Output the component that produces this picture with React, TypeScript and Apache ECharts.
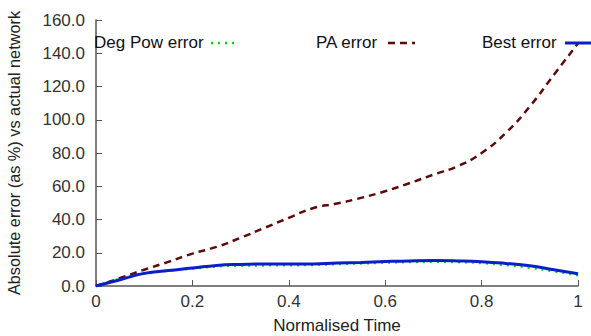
import React, { useEffect, useRef } from "react";
import * as echarts from "echarts";

const times = [0, 0.05, 0.1, 0.15, 0.2, 0.25, 0.3, 0.35, 0.4, 0.45, 0.5, 0.55, 0.6, 0.65, 0.7, 0.75, 0.8, 0.85, 0.9, 0.95, 1];
const degPowError = [0, 4.3, 7.4, 9.2, 10.5, 11.8, 12.3, 12.4, 12.5, 12.7, 13.2, 13.6, 14.0, 14.4, 14.6, 14.4, 13.8, 12.6, 11.0, 8.8, 6.4];
const paError = [0, 4.8, 9.8, 14.5, 19.5, 23.5, 29, 35, 41, 46.8, 49.6, 53, 57, 61.8, 67, 72, 80, 92, 108, 127, 146];
const bestError = [0, 3.8, 7.6, 9.3, 10.8, 12.4, 13, 13.2, 13.2, 13.3, 13.8, 14.2, 14.7, 15.1, 15.3, 15.1, 14.6, 13.6, 12.2, 9.8, 7.4];
const legendNames = ["Deg Pow error", "PA error", "Best error"];

const FONT = "'Liberation Sans', Arial, sans-serif";
const FS = 17;
const GREEN = "#00dd00";
const MAROON = "#5c0a0a";
const BLUE = "#0a1fc8";

export default function App() {
  const ref = useRef<HTMLDivElement>(null);
  useEffect(() => {
    if (!ref.current) return;
    const chart = echarts.init(ref.current, undefined, { renderer: "svg" });
    const pair = (vals: number[]) => times.map((t, i) => [t, vals[i]]);
    chart.setOption({
      animation: false,
      grid: { left: 96, right: 13, top: 20, bottom: 50, containLabel: false, outerBoundsMode: "none" },
      xAxis: {
        type: "value",
        min: 0,
        max: 1,
        interval: 0.2,
        name: "Normalised Time",
        nameLocation: "middle",
        nameGap: 31,
        nameTextStyle: { fontFamily: FONT, fontSize: FS, color: "#222" },
        axisLine: { lineStyle: { color: "#555", width: 1.5 } },
        axisTick: { inside: true, length: 6, lineStyle: { color: "#555" } },
        axisLabel: { fontFamily: FONT, fontSize: FS, color: "#333", margin: 7 },
        splitLine: { show: false },
      },
      yAxis: {
        type: "value",
        min: 0,
        max: 160,
        interval: 20,
        name: "Absolute error (as %) vs actual network",
        nameLocation: "middle",
        nameGap: 74,
        nameTextStyle: { fontFamily: FONT, fontSize: 16.3, color: "#222" },
        axisLine: { show: true, lineStyle: { color: "#555", width: 1.5 } },
        axisTick: { show: true, inside: true, length: 6, lineStyle: { color: "#555" } },
        axisLabel: { fontFamily: FONT, fontSize: FS, color: "#333", margin: 11, formatter: (v: number) => v.toFixed(1) },
        splitLine: { show: false },
      },
      series: [
        {
          name: legendNames[0],
          type: "line",
          data: pair(degPowError),
          smooth: true,
          showSymbol: false,
          lineStyle: { color: GREEN, width: 2.5, type: [2, 5] },
          z: 2,
        },
        {
          name: legendNames[1],
          type: "line",
          data: pair(paError),
          smooth: true,
          showSymbol: false,
          lineStyle: { color: MAROON, width: 2.5, type: [7, 5] },
          z: 3,
        },
        {
          name: legendNames[2],
          type: "line",
          data: pair(bestError),
          smooth: true,
          showSymbol: false,
          lineStyle: { color: BLUE, width: 3 },
          z: 4,
        },
      ],
      graphic: [
        { type: "text", left: 94, top: 34, style: { text: legendNames[0], font: `${FS}px ${FONT}`, fill: "#111" }, z: 10 },
        { type: "line", shape: { x1: 211, y1: 43, x2: 239, y2: 43 }, style: { stroke: GREEN, lineWidth: 2.5, lineDash: [2, 5] }, z: 10 },
        { type: "text", left: 316, top: 34, style: { text: legendNames[1], font: `${FS}px ${FONT}`, fill: "#111" }, z: 10 },
        { type: "line", shape: { x1: 388, y1: 43, x2: 415, y2: 43 }, style: { stroke: MAROON, lineWidth: 2.5, lineDash: [7, 5] }, z: 10 },
        { type: "text", left: 482, top: 34, style: { text: legendNames[2], font: `${FS}px ${FONT}`, fill: "#111" }, z: 10 },
        { type: "line", shape: { x1: 565, y1: 43, x2: 591, y2: 43 }, style: { stroke: BLUE, lineWidth: 3 }, z: 10 },
      ],
    });
    return () => chart.dispose();
  }, []);
  return <div ref={ref} style={{ width: 591, height: 336, position: "absolute", left: 0, top: 0 }} />;
}
